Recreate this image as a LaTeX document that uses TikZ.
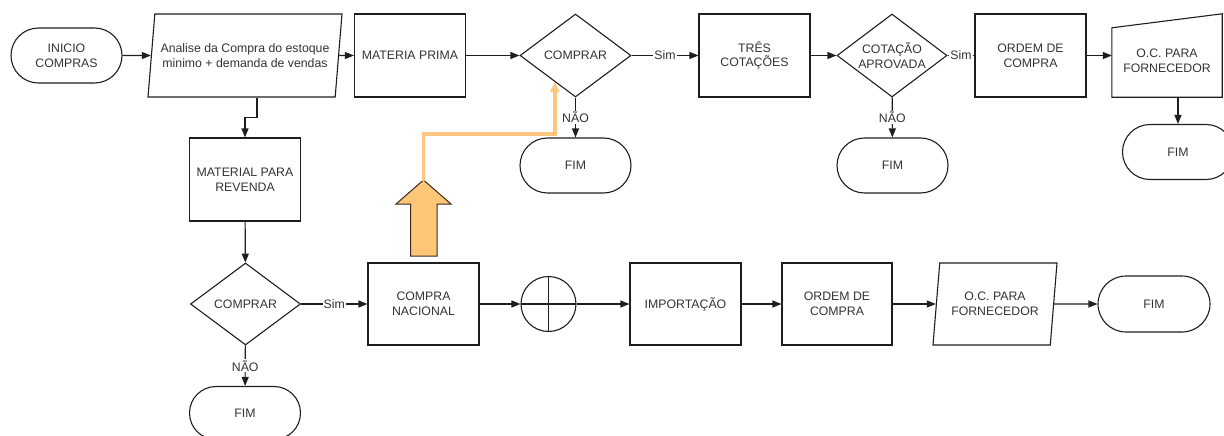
\documentclass[tikz,border=0pt]{standalone}
\usepackage{fontspec}
\setmainfont{Liberation Sans}
\usetikzlibrary{shapes.geometric,shapes.misc,arrows.meta,calc}
\definecolor{ink}{HTML}{1E1E1E}
\definecolor{txtc}{HTML}{333333}
\definecolor{orfill}{HTML}{FFC677}
\definecolor{orline}{HTML}{FCC580}
\definecolor{oredge}{HTML}{3C2A1E}

\begin{document}
\begin{tikzpicture}[x=1pt,y=-1pt,
  lbltxt/.style={text=txtc, font=\fontsize{12.3}{14.8}\selectfont, align=center},
  base/.style={lbltxt, draw=ink, line width=1.1pt, inner sep=0pt},
  box/.style={base, rectangle, minimum width=111pt, minimum height=83pt},
  term/.style={base, rounded rectangle, minimum width=111pt, minimum height=55pt},
  dec/.style={base, diamond, minimum width=111pt, minimum height=83pt},
  para/.style={base, trapezium, trapezium left angle=74, trapezium right angle=106,
    trapezium stretches body, minimum width=194pt, minimum height=83pt},
  junction/.style={base, circle, minimum size=55pt,
    path picture={
      \draw[ink, line width=1.1pt] (path picture bounding box.north) -- (path picture bounding box.south);
      \draw[ink, line width=1.1pt] (path picture bounding box.west) -- (path picture bounding box.east);}},
  outline/.style={draw=ink, line width=1.1pt},
  conn/.style={draw=ink, line width=1.1pt},
  arr/.style={conn, -{Triangle[length=9pt,width=7pt]}},
  lbl/.style={lbltxt, fill=white, inner sep=1pt},
  hint/.style={draw=orline, line width=3.6pt, -{Triangle[length=10pt,width=9pt]}},
  blockarrow/.style={fill=orfill, draw=oredge, line width=1pt, line join=miter},
]
\useasboundingbox (0,0) rectangle (1224,436);

% ---------- top row: raw material purchase ----------
\node[term] (ini) at (66.5,55.5) {INICIO\\COMPRAS};
\node[para] (p1) at (245,55.5) {Analise da Compra do estoque\\minimo + demanda de vendas};
\node[box]  (mp) at (410,55.5) {MATERIA PRIMA};
\node[dec]  (d1) at (575.5,55.5) {};
\node[lbltxt] at (d1) {COMPRAR};
\node[term] (f1) at (575.5,165.5) {FIM};
\node[box]  (tc) at (754.5,55.5) {TRÊS\\COTAÇÕES};
\node[dec, minimum width=110pt] (d2) at (892,55.5) {};
\node[lbltxt] at (d2) {COTAÇÃO\\APROVADA};
\node[term] (f2) at (892.5,165.5) {FIM};
\node[box]  (oc1) at (1030.5,55.5) {ORDEM DE\\COMPRA};
% manual input shape: rectangle with a sloping top edge
\node[minimum width=110pt, minimum height=83pt, inner sep=0pt] (mi) at (1167,55.5) {};
\draw[outline] (mi.north west) ++(0,14) -- (mi.south west) -- (mi.south east) -- (mi.north east) -- cycle;
\node[lbltxt] at ([yshift=-5pt]mi.center) {O.C. PARA\\FORNECEDOR};
\node[term] (f3) at (1178,152) {FIM};

\draw[arr] (ini) -- (p1);
\draw[arr] (p1) -- (mp);
\draw[arr] (mp) -- (d1);
\draw[arr] (d1) -- node[lbl]{Sim} (tc);
\draw[arr] (d1) -- node[lbl]{NÃO} (f1);
\draw[arr] (tc) -- (d2);
\draw[conn] (d2) -- node[lbl]{Sim} (oc1);
\draw[arr] (d2) -- node[lbl]{NÃO} (f2);
\draw[arr] (oc1) -- (mi);
\draw[arr] (mi.south -| f3) -- (f3.north);

% ---------- resale branch ----------
\node[box]  (mr) at (245,179.5) {MATERIAL PARA\\REVENDA};
\node[dec, minimum width=110pt, minimum height=82pt] (d3) at (245.5,304) {};
\node[lbltxt] at (d3) {COMPRAR};
\node[term, minimum height=53pt] (f4) at (245,413) {FIM};

\draw[arr] ([xshift=12pt]mr.north |- p1.south) -- ++(0,20) -| (mr.north);
\draw[arr] (mr) -- (d3);
\draw[arr] (d3) -- node[lbl]{NÃO} (f4);

% ---------- bottom row: national purchase ----------
\node[box, minimum height=82pt] (cn) at (423.5,304) {COMPRA\\NACIONAL};
\node[junction] (cx) at (548.5,304) {};
\node[box, minimum height=82pt] (im) at (685.5,304) {IMPORTAÇÃO};
\node[box, minimum width=110pt, minimum height=82pt] (oc2) at (837,304) {ORDEM DE\\COMPRA};
\node[para, minimum width=124pt, minimum height=82pt] (p2) at (995,304) {O.C. PARA\\FORNECEDOR};
\node[term, minimum width=112pt, minimum height=56pt] (f5) at (1154,304) {FIM};

\draw[arr] (d3) -- node[lbl]{Sim} (cn);
\draw[arr] (cn) -- (cx);
\draw[arr] (cx) -- (im);
\draw[arr] (im) -- (oc2);
\draw[arr] (oc2) -- (p2);
\draw[arr] (p2) -- (f5);

% ---------- highlighted link back to the first decision ----------
\draw[blockarrow] (410.5,256) -- (410.5,204) -- (396,204) -- (423.5,180)
  -- (451,204) -- (437,204) -- (437,256) -- cycle;
\coordinate (uptip) at (423.5,180);
\coordinate (d1in) at ($(d1.south)!0.37!(d1.west)$);
\draw[hint] ([yshift=-1pt]uptip) -- ++(0,-47) -| (d1in);
\end{tikzpicture}
\end{document}
